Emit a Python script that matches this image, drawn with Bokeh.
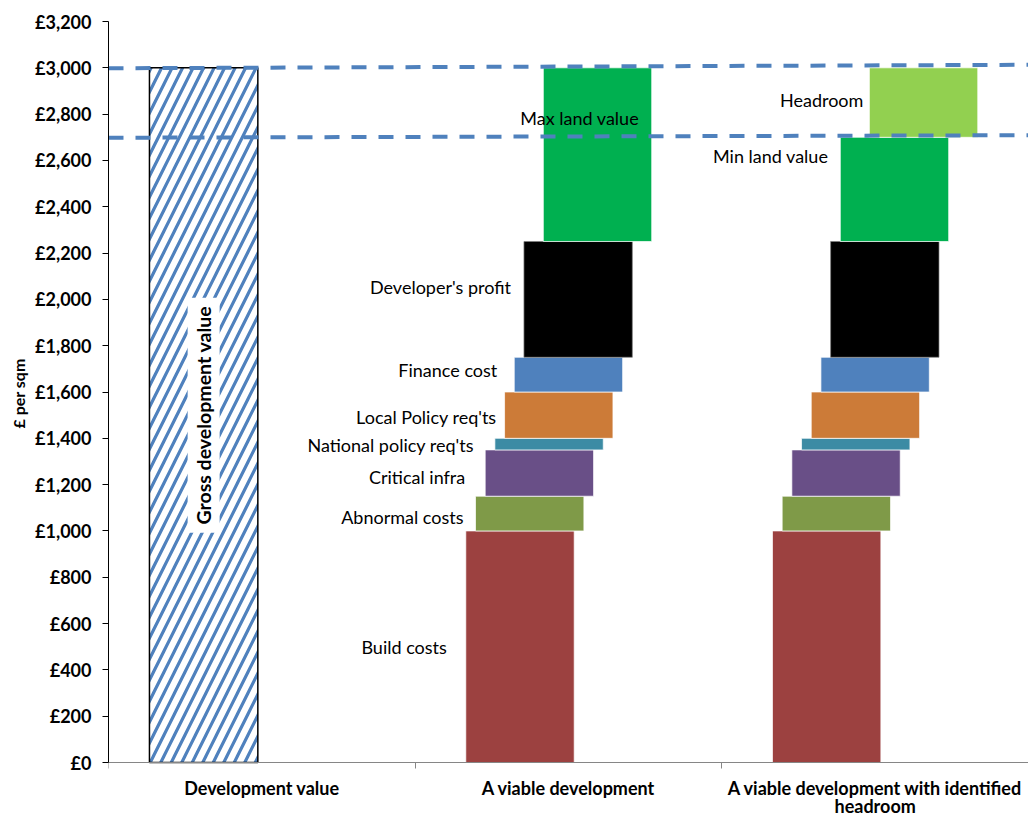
import math
from bokeh.plotting import figure
from bokeh.models import Range1d, FixedTicker, ColumnDataSource, Title
from bokeh.core.properties import value
from bokeh.embed import file_html
from bokeh.resources import INLINE

# ---------------- data ----------------
categories = ["Development value", "A viable development",
              "A viable development with identified\nheadroom"]
gross_development_value = 3000
gdv_label = "Gross development value"
y_axis_title = "£ per sqm"

viable_segments = ["Build costs", "Abnormal costs", "Critical infra",
                   "National policy req'ts", "Local Policy req'ts",
                   "Finance cost", "Developer's profit", "Max land value"]
viable_values = [1000, 150, 200, 50, 200, 150, 500, 750]

headroom_segments = ["Build costs", "Abnormal costs", "Critical infra",
                     "National policy req'ts", "Local Policy req'ts",
                     "Finance cost", "Developer's profit", "Min land value",
                     "Headroom"]
headroom_values = [1000, 150, 200, 50, 200, 150, 500, 450, 300]

max_land_line = [2998, 3013]   # dashed guide, left / right end
min_land_line = [2698, 2709]

y_ticks = list(range(0, 3201, 200))
y_max = 3200

# ---------------- styles / layout ----------------
colors = {
    "Build costs": "#9C4140",
    "Abnormal costs": "#7F9A48",
    "Critical infra": "#694F87",
    "National policy req'ts": "#3C8BA4",
    "Local Policy req'ts": "#CC7B38",
    "Finance cost": "#4F81BD",
    "Developer's profit": "#000000",
    "Max land value": "#00B050",
    "Min land value": "#00B050",
    "Headroom": "#92D050",
}
PX = 1.0 / 307.0          # one reference pixel in category units
YPX = y_max / 741.0       # one reference pixel in value units
BAR_W = 108.5 * PX
BASE_OFF = 50.7 * PX
STEP = 9.7 * PX
viable_steps = [0, 1, 2, 3, 4, 5, 6, 8]
headroom_steps = [0, 1, 2, 3, 4, 5, 6, 7, 10]

# label placement tweaks: (align, gap in px from bar left edge, shift in value units)
label_tweaks_viable = {
    "Build costs": ("right", 19, -3), "Abnormal costs": ("right", 12, -13),
    "Critical infra": ("right", 20, -15), "National policy req'ts": ("right", 21, -2),
    "Local Policy req'ts": ("right", 8, -6), "Finance cost": ("right", 17, 22),
    "Developer's profit": ("right", 13, 55), "Max land value": ("left", 23, 160),
}
label_tweaks_headroom = {"Min land value": ("right", 12, 146), "Headroom": ("right", 6, 13)}

FONT = "Lato"
LBL_SIZE = "18px"

# frame runs to the bottom of the page; the value axis is bounded to 0..3200
p = figure(width=1028, height=817, x_range=Range1d(0, 3),
           y_range=Range1d(-55 * YPX, y_max),
           output_backend="svg", toolbar_location=None,
           min_border_left=108, min_border_right=0, min_border_top=21,
           min_border_bottom=0)
p.outline_line_color = None
p.xgrid.visible = False
p.ygrid.visible = False
p.background_fill_color = "white"
p.border_fill_color = "white"

# ---- gross development value bar (hatched) ----
gdv_left = 41 * PX
p.quad(left=[gdv_left], right=[gdv_left + BAR_W], bottom=[0], top=[gross_development_value],
       fill_color="white", line_color="black", line_width=1.5,
       hatch_pattern="/", hatch_color="#4F81BD", hatch_weight=3.2, hatch_scale=21)
gdv_cx = gdv_left + BAR_W / 2
p.rect(x=[gdv_cx], y=[gross_development_value / 2], width=32, height=235,
       width_units="screen", height_units="screen", fill_color="white", line_color=None)
p.text(x=[gdv_cx], y=[gross_development_value / 2], text=[gdv_label], angle=math.pi / 2,
       text_align="center", text_baseline="middle", text_font=value(FONT),
       text_font_style="bold", text_font_size="19.5px", text_color="black")


def stacked(cat_index, segs, vals, steps, tweaks):
    left, right, bottom, top, fill, line = [], [], [], [], [], []
    lx, ly, lt, la = [], [], [], []
    base = 0
    for s, v, st in zip(segs, vals, steps):
        l = cat_index + BASE_OFF + st * STEP
        left.append(l)
        right.append(l + BAR_W)
        bottom.append(base)
        top.append(base + v)
        fill.append(colors[s])
        line.append("#7F7F7F" if s == "Developer's profit" else "white")
        if s in tweaks:
            align, gap, dy = tweaks[s]
            lx.append(l - gap * PX)
            la.append(align)
            ly.append(base + v / 2 + dy)
            lt.append(s)
        base += v
    src = ColumnDataSource(dict(left=left, right=right, bottom=bottom, top=top,
                                fill=fill, line=line))
    p.quad(left="left", right="right", bottom="bottom", top="top", source=src,
           fill_color="fill", line_color="line", line_width=1, line_alpha=0.7)
    lsrc = ColumnDataSource(dict(x=lx, y=ly, text=lt, align=la))
    p.text(x="x", y="y", text="text", source=lsrc, text_align="align",
           text_baseline="middle", text_font=value(FONT), text_font_size=LBL_SIZE,
           text_color="black")


stacked(1, viable_segments, viable_values, viable_steps, label_tweaks_viable)
stacked(2, headroom_segments, headroom_values, headroom_steps, label_tweaks_headroom)

# ---- dashed guide lines ----
for ln in (max_land_line, min_land_line):
    p.line(x=[0, 3], y=ln, line_color="#4F81BD", line_width=4, line_dash="15 12")

# ---- axes ----
ya = p.yaxis[0]
ya.bounds = (0, y_max)
ya.ticker = FixedTicker(ticks=y_ticks)
ya.major_label_overrides = {t: "£{:,}".format(t) for t in y_ticks}
ya.major_label_text_font = FONT
ya.major_label_text_font_style = "bold"
ya.major_label_text_font_size = "18px"
ya.major_label_text_color = "black"
ya.major_label_standoff = 11
ya.major_tick_out = 6
ya.major_tick_in = 0
ya.minor_tick_line_color = None
ya.axis_line_color = "black"
ya.major_tick_line_color = "black"

# value-axis title, placed alongside the 0..3200 span of the axis
p.add_layout(Title(text=y_axis_title, align="left", offset=389,
                   text_font=FONT, text_font_style="bold", text_font_size="16px",
                   text_color="black"), "left")

xa = p.xaxis[0]
xa.fixed_location = 0
xa.ticker = FixedTicker(ticks=[0.5, 1.5, 2.5], minor_ticks=[0, 1, 2, 3])
xa.major_label_overrides = {0.5: categories[0], 1.5: categories[1], 2.5: categories[2]}
xa.major_label_text_font = FONT
xa.major_label_text_font_style = "bold"
xa.major_label_text_font_size = "18px"
xa.major_label_text_color = "black"
xa.major_label_text_line_height = 0.86
xa.major_label_standoff = 8
xa.major_tick_line_color = None
xa.major_tick_out = 0
xa.major_tick_in = 0
xa.minor_tick_line_color = "#868686"
xa.minor_tick_out = 6
xa.minor_tick_in = 0
xa.axis_line_color = "#868686"

open("out.html", "w").write(file_html(p, INLINE))
